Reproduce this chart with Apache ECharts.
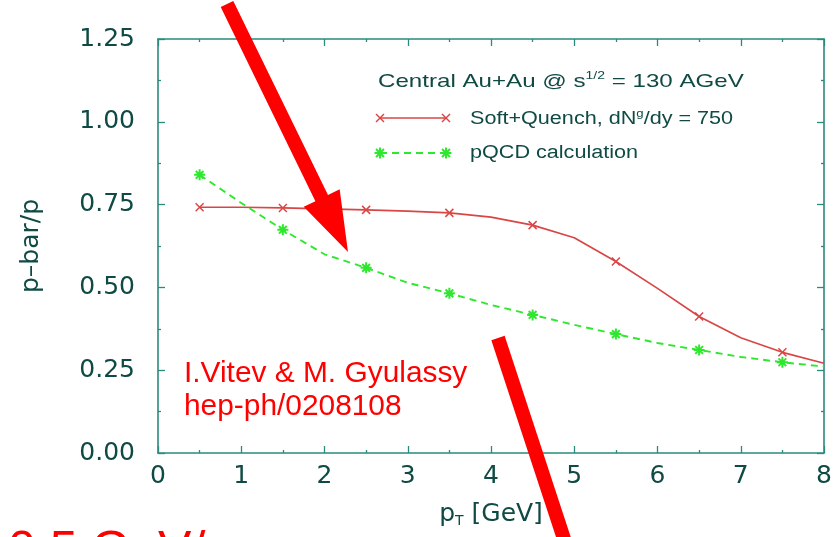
<!DOCTYPE html>
<html>
<head>
<meta charset="utf-8">
<script src="https://cdn.jsdelivr.net/npm/echarts@6/dist/echarts.min.js"></script>
<style>
  html, body { margin: 0; padding: 0; background: #fff; }
  #chart { width: 837px; height: 537px; }
</style>
</head>
<body>
<div id="chart"></div>
<script>
// pT grid (GeV) on which both curves are tabulated
const ptValues = [0.5, 1, 1.5, 2, 2.5, 3, 3.5, 4, 4.5, 5, 5.5, 6, 6.5, 7, 7.5, 8];
// p-bar/p ratio, soft + quenched jet contribution
const softQuench = [0.742, 0.742, 0.740, 0.737, 0.734, 0.730, 0.725, 0.712, 0.688, 0.650, 0.578, 0.497, 0.412, 0.348, 0.304, 0.271];
// p-bar/p ratio, pQCD calculation
const pqcd = [0.840, 0.755, 0.674, 0.600, 0.559, 0.514, 0.482, 0.447, 0.417, 0.387, 0.359, 0.332, 0.311, 0.290, 0.274, 0.261];
// points that carry a marker
const markerPts = [0.5, 1.5, 2.5, 3.5, 4.5, 5.5, 6.5, 7.5];

const xTicks = [0, 1, 2, 3, 4, 5, 6, 7, 8];
const yTicks = [0, 0.25, 0.5, 0.75, 1.0, 1.25];

const RED = '#d94646';
const GREEN = '#2ee82e';
const AXIS = '#2a8a7e';
const TEXT = '#0f4a44';

const CROSS = 'path://M0,0L10,10M10,0L0,10';
const STAR = 'path://M5,0L5,10M0,5L10,5M1.5,1.5L8.5,8.5M8.5,1.5L1.5,8.5';

function buildData(ys, sym, size) {
  return ptValues.map((x, i) => {
    const item = { value: [x, ys[i]] };
    if (markerPts.indexOf(x) >= 0) { item.symbol = sym; item.symbolSize = size; }
    else { item.symbol = 'none'; }
    return item;
  });
}

const chart = echarts.init(document.getElementById('chart'), null, { renderer: 'canvas' });

const sansFont = 'Liberation Sans, Arial, sans-serif';
const wideFont = 'DejaVu Sans, sans-serif';
const axisFont = { fontFamily: wideFont, color: TEXT, fontSize: 25 };

// arrow geometry for slide annotations
function arrowPoints(x0, y0, x1, y1, shaftW, headL, headW) {
  const dx = x1 - x0, dy = y1 - y0, L = Math.hypot(dx, dy);
  const ux = dx / L, uy = dy / L, nx = -uy, ny = ux;
  const bx = x1 - ux * headL, by = y1 - uy * headL;
  return [
    [x0 + nx * shaftW / 2, y0 + ny * shaftW / 2],
    [bx + nx * shaftW / 2, by + ny * shaftW / 2],
    [bx + nx * headW / 2, by + ny * headW / 2],
    [x1, y1],
    [bx - nx * headW / 2, by - ny * headW / 2],
    [bx - nx * shaftW / 2, by - ny * shaftW / 2],
    [x0 - nx * shaftW / 2, y0 - ny * shaftW / 2]
  ];
}
function barPoints(x0, y0, x1, y1, w) {
  const dx = x1 - x0, dy = y1 - y0, L = Math.hypot(dx, dy);
  const nx = -dy / L, ny = dx / L;
  return [
    [x0 + nx * w / 2, y0 + ny * w / 2], [x1 + nx * w / 2, y1 + ny * w / 2],
    [x1 - nx * w / 2, y1 - ny * w / 2], [x0 - nx * w / 2, y0 - ny * w / 2]
  ];
}

// key marker glyphs built from plain line segments
function crossGlyph(cx, cy, r, color, w) {
  return [
    { type: 'line', shape: { x1: cx - r, y1: cy - r, x2: cx + r, y2: cy + r }, style: { stroke: color, lineWidth: w } },
    { type: 'line', shape: { x1: cx + r, y1: cy - r, x2: cx - r, y2: cy + r }, style: { stroke: color, lineWidth: w } }
  ];
}
function starGlyph(cx, cy, r, color, w) {
  const d = r * 0.72;
  return crossGlyph(cx, cy, d, color, w).concat([
    { type: 'line', shape: { x1: cx, y1: cy - r, x2: cx, y2: cy + r }, style: { stroke: color, lineWidth: w } },
    { type: 'line', shape: { x1: cx - r, y1: cy, x2: cx + r, y2: cy }, style: { stroke: color, lineWidth: w } }
  ]);
}

const axisCommon = {
  axisLine: { show: true, onZero: false, lineStyle: { color: AXIS, width: 1.6 } },
  axisTick: { show: true, inside: true, length: 7, lineStyle: { color: AXIS, width: 1.3 } },
  minorTick: { show: true, splitNumber: 2, length: 3, lineStyle: { color: AXIS, width: 1.3 } },
  splitLine: { show: false }
};

chart.setOption({
  backgroundColor: '#ffffff',
  animation: false,
  grid: { left: 158, right: 13, top: 39, bottom: 84, containLabel: false },
  xAxis: [
    Object.assign({
      type: 'value', min: xTicks[0], max: xTicks[xTicks.length - 1], interval: 1,
      name: '{p|p}{sub|T}{p| [GeV]}', nameLocation: 'middle', nameGap: 47,
      nameTextStyle: {
        rich: {
          p: { fontSize: 25, color: TEXT, fontFamily: wideFont },
          sub: { fontSize: 14, color: TEXT, fontFamily: wideFont, padding: [14, 0, 0, 0] }
        }
      },
      axisLabel: Object.assign({ margin: 11, formatter: v => String(v) }, axisFont)
    }, axisCommon),
    Object.assign({
      type: 'value', position: 'top', min: xTicks[0], max: xTicks[xTicks.length - 1], interval: 1,
      axisLabel: { show: false }
    }, axisCommon)
  ],
  yAxis: [
    Object.assign({
      type: 'value', min: yTicks[0], max: yTicks[yTicks.length - 1], interval: 0.25,
      name: 'p\u2013bar/p', nameLocation: 'middle', nameGap: 114, nameRotate: 90,
      nameTextStyle: axisFont,
      axisLabel: Object.assign({ margin: 23, formatter: v => v.toFixed(2) }, axisFont)
    }, axisCommon),
    Object.assign({
      type: 'value', position: 'right', min: yTicks[0], max: yTicks[yTicks.length - 1], interval: 0.25,
      axisLabel: { show: false }
    }, axisCommon)
  ],
  series: [
    {
      name: 'Soft+Quench', type: 'line', xAxisIndex: 0, yAxisIndex: 0,
      data: buildData(softQuench, CROSS, 8),
      lineStyle: { color: RED, width: 1.7 },
      itemStyle: { color: 'rgba(0,0,0,0)', borderColor: RED, borderWidth: 1.5 },
      z: 3
    },
    {
      name: 'pQCD calculation', type: 'line', xAxisIndex: 0, yAxisIndex: 0,
      data: buildData(pqcd, STAR, 11),
      lineStyle: { color: GREEN, width: 1.9, type: [7, 5] },
      itemStyle: { color: 'rgba(0,0,0,0)', borderColor: GREEN, borderWidth: 2 },
      z: 4
    }
  ],
  graphic: [
    // key
    { type: 'text', x: 378, y: 82, scaleX: 1.27, style: {
        text: '{t|Central Au+Au @ s}{sup|1/2}{t| = 130 AGeV}', verticalAlign: 'middle',
        rich: {
          t: { fontSize: 19, fontFamily: sansFont, fill: TEXT },
          sup: { fontSize: 11, fontFamily: sansFont, fill: TEXT, padding: [0, 0, 12, 0] }
        } } },
    { type: 'line', shape: { x1: 380, y1: 118, x2: 446, y2: 118 }, style: { stroke: RED, lineWidth: 1.7 } },
    ...crossGlyph(380, 118, 4, RED, 1.5),
    ...crossGlyph(446, 118, 4, RED, 1.5),
    { type: 'text', x: 470, y: 119, scaleX: 1.2, style: {
        text: '{t|Soft+Quench, dN}{sup|g}{t|/dy = 750}', verticalAlign: 'middle',
        rich: {
          t: { fontSize: 18, fontFamily: sansFont, fill: TEXT },
          sup: { fontSize: 11, fontFamily: sansFont, fill: TEXT, padding: [0, 0, 11, 0] }
        } } },
    { type: 'line', shape: { x1: 380, y1: 153, x2: 446, y2: 153 }, style: { stroke: GREEN, lineWidth: 1.9, lineDash: [7, 5] } },
    ...starGlyph(380, 153, 5.5, GREEN, 2),
    ...starGlyph(446, 153, 5.5, GREEN, 2),
    { type: 'text', x: 470, y: 153, scaleX: 1.2, style: { text: 'pQCD calculation', verticalAlign: 'middle', fontSize: 18, fontFamily: sansFont, fill: TEXT } },
    // citation
    { type: 'text', x: 184, y: 357, scaleX: 1.03, style: {
        text: 'I.Vitev & M. Gyulassy\nhep-ph/0208108', fontSize: 29, lineHeight: 33,
        fontFamily: sansFont, fill: '#ff0000' }, z: 10 },
    // slide caption running off the bottom edge
    { type: 'text', x: 8, y: 527, style: { text: '0.5 GeV/c', verticalAlign: 'top', fontSize: 50, fontFamily: sansFont, fill: '#ff0000' }, z: 10 },
    // annotation arrows
    { type: 'polygon', shape: { points: arrowPoints(227, 4, 348, 252, 14, 60, 40) }, style: { fill: '#ff0000' }, z: 20 },
    { type: 'polygon', shape: { points: barPoints(498, 338, 566, 545, 14) }, style: { fill: '#ff0000' }, z: 20 }
  ]
});
</script>
</body>
</html>
